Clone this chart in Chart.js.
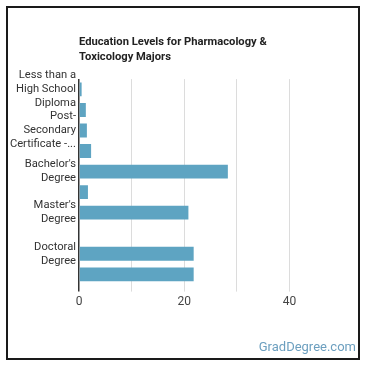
<!DOCTYPE html>
<html>
<head>
<meta charset="utf-8">
<script src="https://cdn.jsdelivr.net/npm/chart.js@4/dist/chart.umd.min.js"></script>
<style>
  body { margin: 0; background: #fff; }
  #wrap { position: relative; width: 370px; height: 370px; }
  #frame {
    position: absolute; left: 6px; top: 6px; width: 350px; height: 350px;
    border: 2px solid #1a1a1a; pointer-events: none;
  }
  #brand {
    position: absolute; right: 14px; top: 339px;
    font: 13px Roboto, sans-serif; color: #6c9fbf;
  }
</style>
</head>
<body>
<div id="wrap">
  <canvas id="edu-chart" width="370" height="370"></canvas>
  <div id="frame"></div>
  <div id="brand">GradDegree.com</div>
</div>
<script>
// degree levels (already wrapped the way the axis shows them)
const categories = [
  ['Less than a', 'High School', 'Diploma'],
  ['High School', 'Diploma'],
  ['Post-', 'Secondary', 'Certificate -...'],
  ["Associate's", 'Degree'],
  ["Bachelor's", 'Degree'],
  ['Post-', 'Baccalaureate'],
  ["Master's", 'Degree'],
  ["Post-Master's", 'Certificate'],
  ['Doctoral', 'Degree'],
  ['Post-Doctoral', 'Training'],
];

// share of majors at each level
const values = [0.5, 1.3, 1.5, 2.3, 28.3, 1.7, 20.8, 0.15, 21.8, 21.8];

const xTicks = [0, 20, 40];
const xMax = 50;

const ctx = document.getElementById('edu-chart').getContext('2d');
const eduChart = new Chart(ctx, {
  type: 'bar',
  data: {
    labels: categories,
    datasets: [
      {
        data: values,
        backgroundColor: '#5ea4c2',
        barPercentage: 0.9,
        categoryPercentage: 0.75,
      },
    ],
  },
  options: {
    indexAxis: 'y',
    responsive: false,
    animation: false,
    layout: { padding: { top: 35, left: 8, right: 28, bottom: 58 } },
    plugins: {
      legend: { display: false },
      tooltip: { enabled: false },
      title: {
        display: true,
        text: ['Education Levels for Pharmacology &', 'Toxicology Majors'],
        align: 'start',
        fullSize: false,
        color: '#222',
        font: { family: 'Roboto', size: 11.2, weight: 'bold', lineHeight: 1.3 },
        padding: { top: 0, bottom: 15 },
      },
    },
    scales: {
      x: {
        min: 0,
        max: xMax,
        border: { display: false },
        grid: {
          color: (c) => (c.tick.value === 0 ? '#333' : c.tick.value === xMax ? 'rgba(0,0,0,0)' : '#dcdcdc'),
          lineWidth: (c) => (c.tick.value === 0 ? 1.5 : 1),
          tickLength: 7,
        },
        ticks: {
          stepSize: 10,
          padding: 3,
          color: '#444',
          font: { family: 'Roboto', size: 12 },
          callback: (v) => (xTicks.includes(v) ? v : ''),
        },
      },
      y: {
        border: { display: false },
        grid: { display: false, drawTicks: false },
        afterFit: (scale) => {
          scale.width = 71;
        },
        ticks: {
          autoSkip: false,
          padding: 3,
          color: '#333',
          font: { family: 'Roboto', size: 11.2, lineHeight: 1.25 },
          callback: function (v, i) {
            return i % 2 === 0 ? this.getLabelForValue(v) : null;
          },
        },
      },
    },
  },
});
</script>
</body>
</html>
